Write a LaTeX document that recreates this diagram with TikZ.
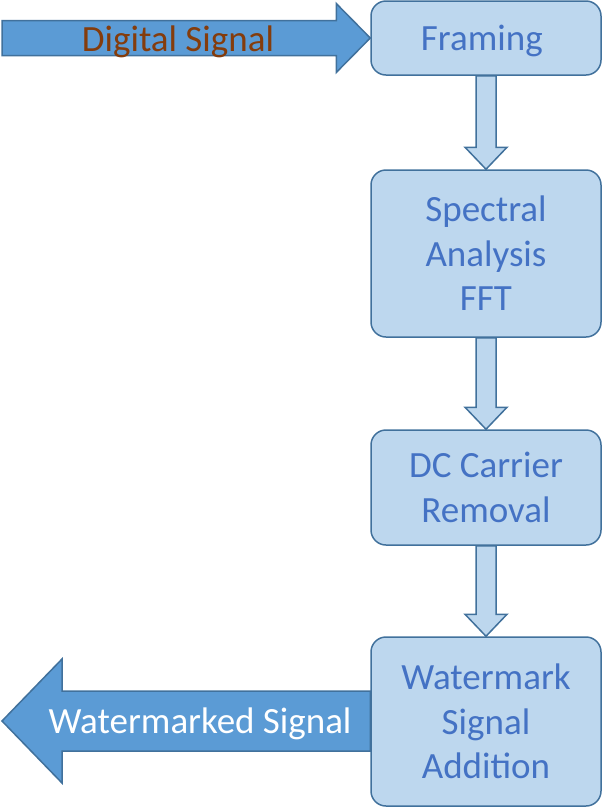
\documentclass[tikz,border=0pt]{standalone}
\usepackage{fontspec}
\setmainfont{Carlito}
\usetikzlibrary{calc}

\definecolor{boxfill}{HTML}{BDD7EE}
\definecolor{boxline}{HTML}{41719C}
\definecolor{arrowfill}{HTML}{5B9BD5}
\definecolor{boxtext}{HTML}{4472C4}
\definecolor{signaltext}{HTML}{843C0C}

\tikzset{
	every block/.style={draw=boxline, fill=boxfill, line width=1.5pt,
		rounded corners=15pt, minimum width=230pt, inner sep=0pt,
		text=boxtext, align=center, font=\fontsize{37}{44.5}\selectfont},
	fat arrow/.style={draw=boxline, fill=arrowfill, line width=1.5pt},
	thin arrow/.style={draw=boxline, fill=boxfill, line width=1.5pt},
	signal label/.style={font=\fontsize{37}{44.5}\selectfont, inner sep=0pt,
		text depth=0pt},
}

\begin{document}
\begin{tikzpicture}[x=1pt, y=-1pt]

		\useasboundingbox (0,0) rectangle (602,812);

		% Blocks
		\node [every block, minimum height=74pt, text depth=0pt] (framing) at (486,38) {
			Framing
		};
		\node [every block, minimum height=167pt] (spectral) at (486,253.5) {
			Spectral\\Analysis\\FFT
		};
		\node [every block, minimum height=115pt] (dc) at (486,487.5) {
			DC Carrier\\Removal
		};
		\node [every block, minimum height=169pt] (watermark) at (486,721.5) {
			Watermark\\Signal\\Addition
		};

		% Signal ends
		\coordinate (din) at (2,38);
		\coordinate (wout) at (2,721);

		% Input arrow
		\draw [fat arrow] let \p1=(din), \p2=(framing.west) in
			(\x1,\y1+17.5) -- (\x2-34,\y1+17.5) -- (\x2-34,\y1+34.5) --
			(\x2,\y1) -- (\x2-34,\y1-34.5) -- (\x2-34,\y1-17.5) --
			(\x1,\y1-17.5) -- cycle;

		% Output arrow
		\draw [fat arrow] let \p1=(watermark.west), \p2=(wout) in
			(\x1,\y2+30) -- (\x2+60,\y2+30) -- (\x2+60,\y2+62) --
			(\x2,\y2) -- (\x2+60,\y2-62) -- (\x2+60,\y2-30) --
			(\x1,\y2-30) -- cycle;

		% Flow arrows
		\foreach \a/\b in {framing/spectral, spectral/dc, dc/watermark}
			\draw [thin arrow] let \p1=(\a.south), \p2=(\b.north) in
				(\x1-10,\y1) -- (\x1-10,\y2+22) -- (\x1-21,\y2+22) --
				(\x1,\y2) -- (\x1+21,\y2+22) -- (\x1+10,\y2+22) --
				(\x1+10,\y1) -- cycle;

		\node [signal label, text=signaltext] (din-label) at (178,39) {Digital Signal};
		\node [signal label, text=white] (wout-label) at (200,721) {Watermarked Signal};

\end{tikzpicture}
\end{document}
